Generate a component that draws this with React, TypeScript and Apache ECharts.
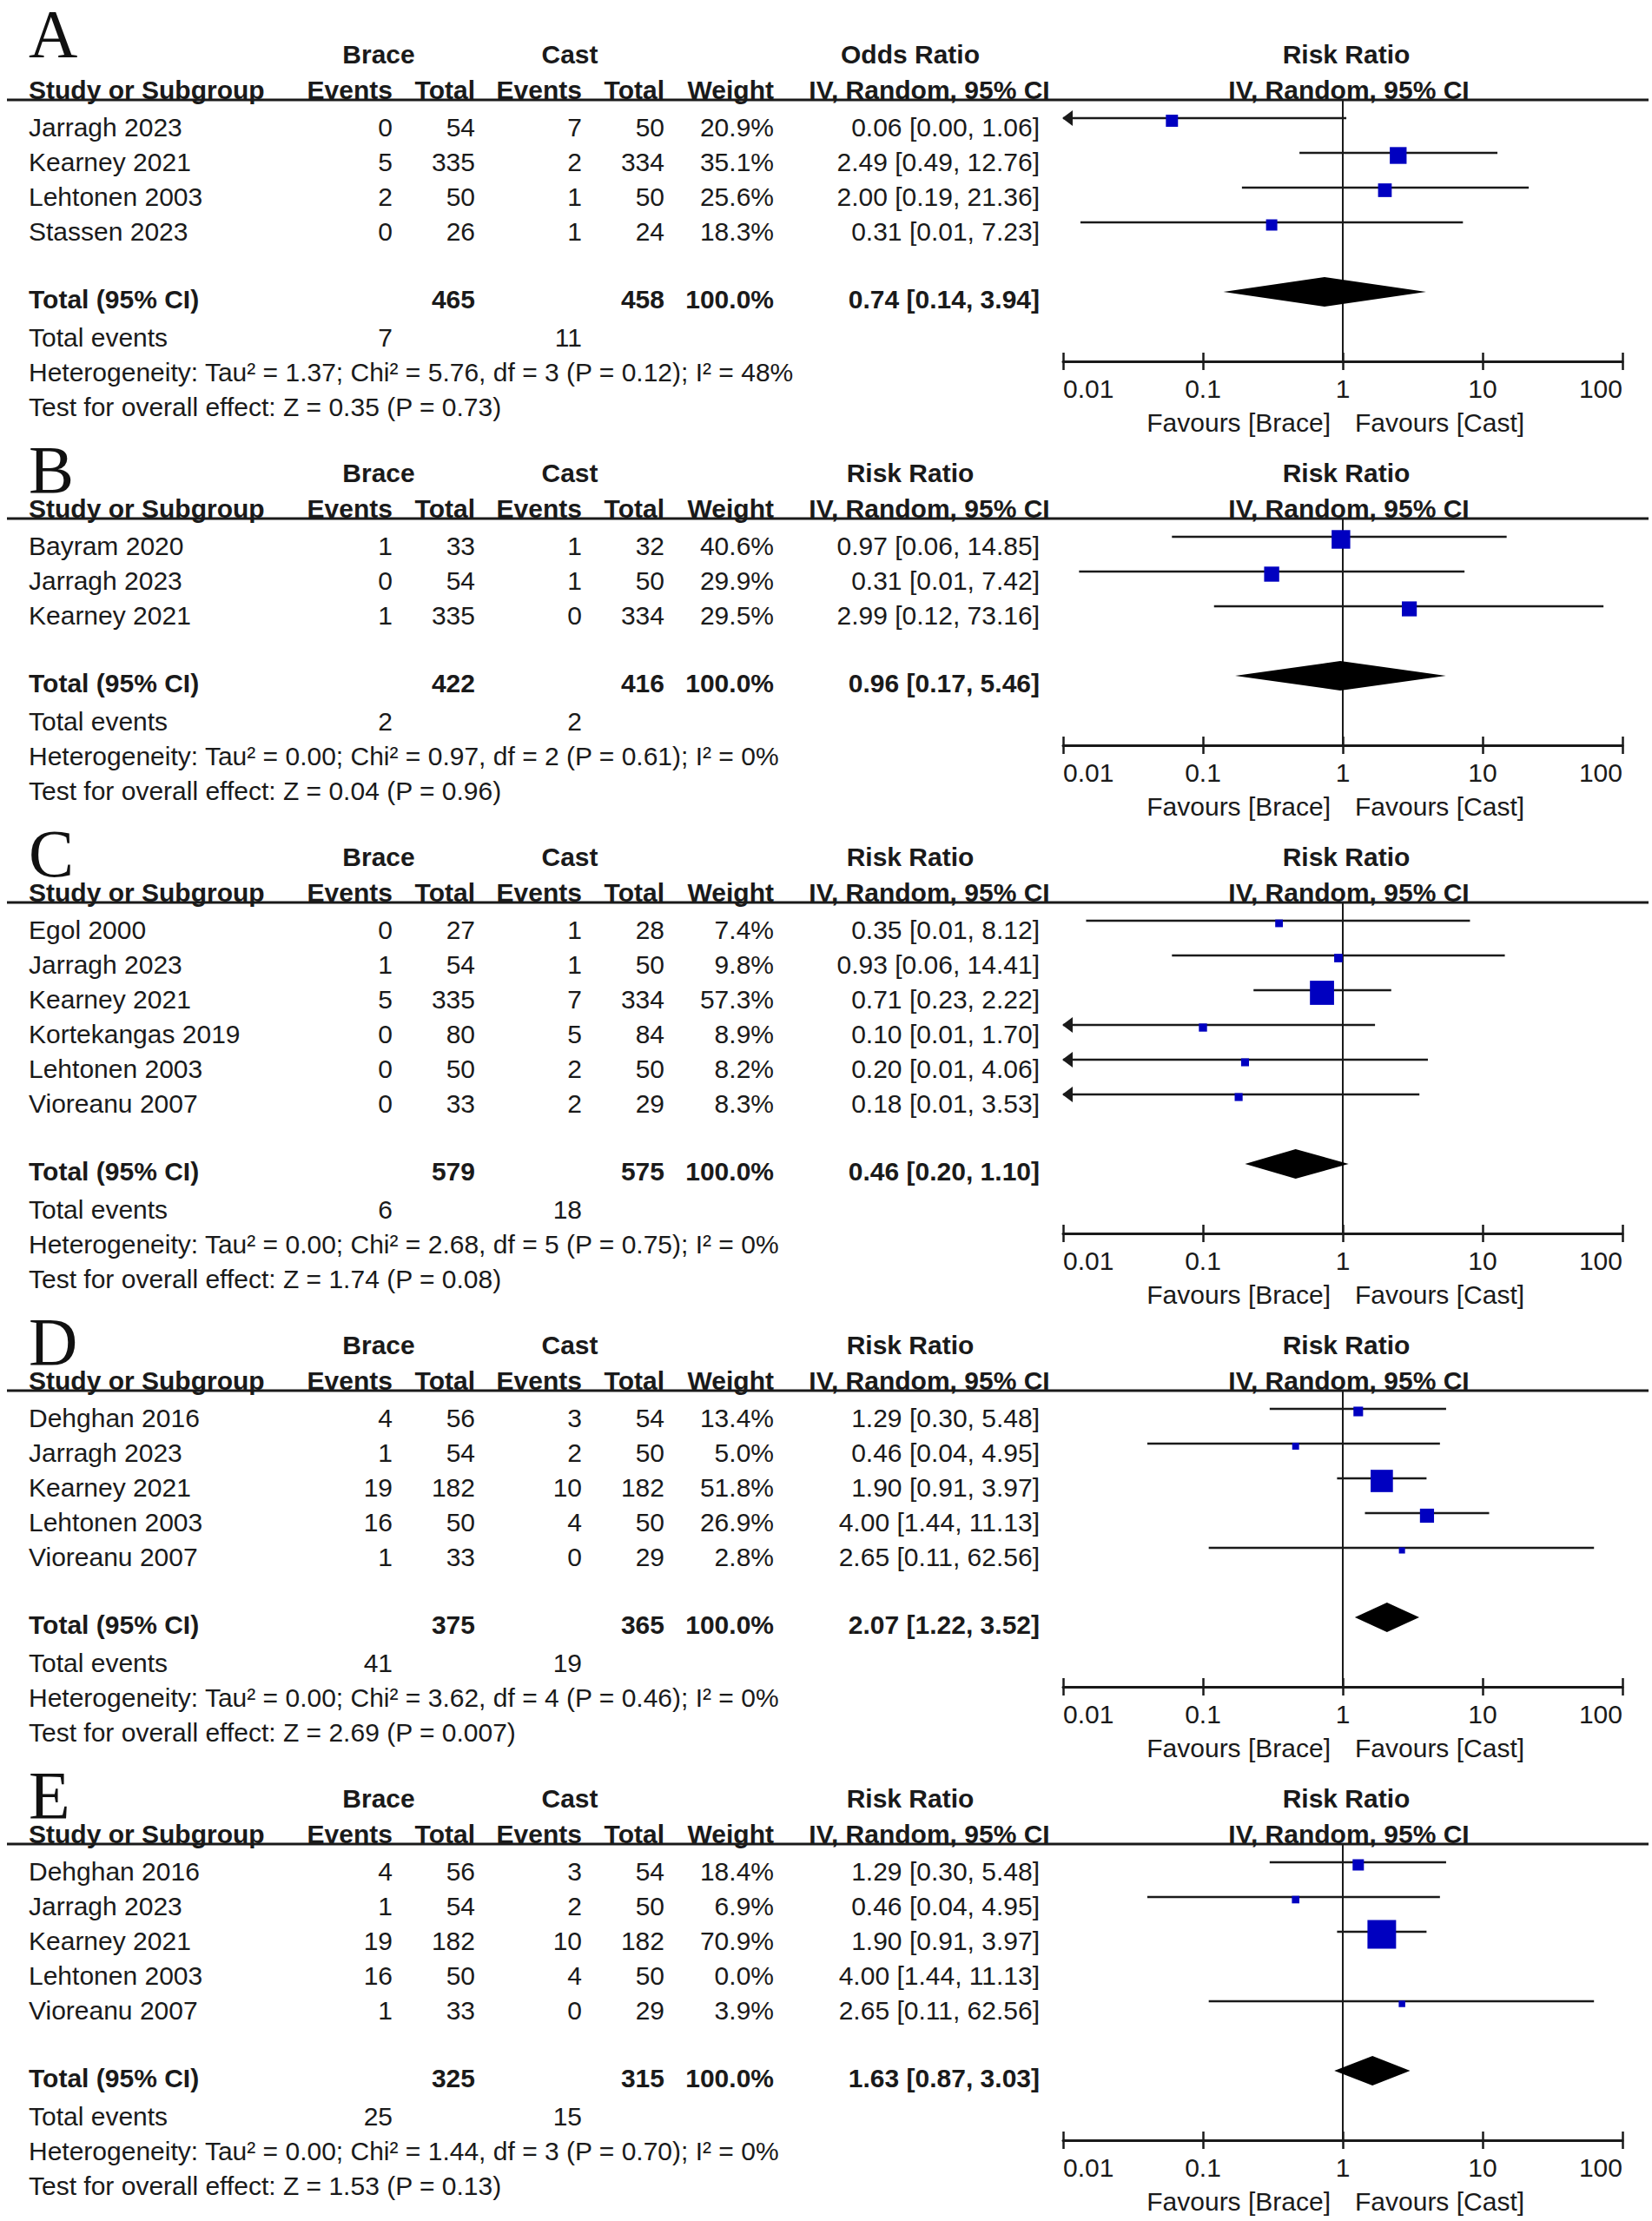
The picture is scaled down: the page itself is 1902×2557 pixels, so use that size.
import React, { useEffect, useRef } from "react";
import * as echarts from "echarts";

// ---------------- data ----------------
const PANEL_LETTERS = ["A", "B", "C", "D", "E"];
const EFFECT_HEADERS = ["Odds Ratio", "Risk Ratio", "Risk Ratio", "Risk Ratio", "Risk Ratio"];
const PLOT_HEADER = "Risk Ratio";
const METHOD_LABEL = "IV, Random, 95% CI";
const GROUP_LABELS = ["Brace", "Cast"];
const COLUMN_HEADERS = ["Study or Subgroup", "Events", "Total", "Events", "Total", "Weight"];
const FAVOURS = ["Favours [Brace]", "Favours [Cast]"];
const TICK_LABELS = ["0.01", "0.1", "1", "10", "100"];

// Panel A
const STUDIES_A = ["Jarragh 2023", "Kearney 2021", "Lehtonen 2003", "Stassen 2023"];
const BRACE_EV_A = [0, 5, 2, 0];
const BRACE_N_A = [54, 335, 50, 26];
const CAST_EV_A = [7, 2, 1, 1];
const CAST_N_A = [50, 334, 50, 24];
const WEIGHT_A = [20.9, 35.1, 25.6, 18.3];
const EST_A = [0.06, 2.49, 2.0, 0.31];
const LO_A = [0.0034, 0.49, 0.19, 0.0133];
const HI_A = [1.06, 12.76, 21.36, 7.23];
const TOTAL_A = { braceN: 465, castN: 458, weight: 100.0, braceEv: 7, castEv: 11, est: 0.74, lo: 0.14, hi: 3.94 };
const HET_A = "Heterogeneity: Tau² = 1.37; Chi² = 5.76, df = 3 (P = 0.12); I² = 48%";
const TEST_A = "Test for overall effect: Z = 0.35 (P = 0.73)";

// Panel B
const STUDIES_B = ["Bayram 2020", "Jarragh 2023", "Kearney 2021"];
const BRACE_EV_B = [1, 0, 1];
const BRACE_N_B = [33, 54, 335];
const CAST_EV_B = [1, 1, 0];
const CAST_N_B = [32, 50, 334];
const WEIGHT_B = [40.6, 29.9, 29.5];
const EST_B = [0.97, 0.31, 2.99];
const LO_B = [0.06, 0.013, 0.12];
const HI_B = [14.85, 7.42, 73.16];
const TOTAL_B = { braceN: 422, castN: 416, weight: 100.0, braceEv: 2, castEv: 2, est: 0.96, lo: 0.17, hi: 5.46 };
const HET_B = "Heterogeneity: Tau² = 0.00; Chi² = 0.97, df = 2 (P = 0.61); I² = 0%";
const TEST_B = "Test for overall effect: Z = 0.04 (P = 0.96)";

// Panel C
const STUDIES_C = ["Egol 2000", "Jarragh 2023", "Kearney 2021", "Kortekangas 2019", "Lehtonen 2003", "Vioreanu 2007"];
const BRACE_EV_C = [0, 1, 5, 0, 0, 0];
const BRACE_N_C = [27, 54, 335, 80, 50, 33];
const CAST_EV_C = [1, 1, 7, 5, 2, 2];
const CAST_N_C = [28, 50, 334, 84, 50, 29];
const WEIGHT_C = [7.4, 9.8, 57.3, 8.9, 8.2, 8.3];
const EST_C = [0.35, 0.93, 0.71, 0.1, 0.2, 0.18];
const LO_C = [0.0146, 0.06, 0.23, 0.0059, 0.0099, 0.0092];
const HI_C = [8.12, 14.41, 2.22, 1.7, 4.06, 3.53];
const TOTAL_C = { braceN: 579, castN: 575, weight: 100.0, braceEv: 6, castEv: 18, est: 0.46, lo: 0.2, hi: 1.1 };
const HET_C = "Heterogeneity: Tau² = 0.00; Chi² = 2.68, df = 5 (P = 0.75); I² = 0%";
const TEST_C = "Test for overall effect: Z = 1.74 (P = 0.08)";

// Panel D
const STUDIES_D = ["Dehghan 2016", "Jarragh 2023", "Kearney 2021", "Lehtonen 2003", "Vioreanu 2007"];
const BRACE_EV_D = [4, 1, 19, 16, 1];
const BRACE_N_D = [56, 54, 182, 50, 33];
const CAST_EV_D = [3, 2, 10, 4, 0];
const CAST_N_D = [54, 50, 182, 50, 29];
const WEIGHT_D = [13.4, 5.0, 51.8, 26.9, 2.8];
const EST_D = [1.29, 0.46, 1.9, 4.0, 2.65];
const LO_D = [0.3, 0.04, 0.91, 1.44, 0.11];
const HI_D = [5.48, 4.95, 3.97, 11.13, 62.56];
const TOTAL_D = { braceN: 375, castN: 365, weight: 100.0, braceEv: 41, castEv: 19, est: 2.07, lo: 1.22, hi: 3.52 };
const HET_D = "Heterogeneity: Tau² = 0.00; Chi² = 3.62, df = 4 (P = 0.46); I² = 0%";
const TEST_D = "Test for overall effect: Z = 2.69 (P = 0.007)";

// Panel E
const STUDIES_E = ["Dehghan 2016", "Jarragh 2023", "Kearney 2021", "Lehtonen 2003", "Vioreanu 2007"];
const BRACE_EV_E = [4, 1, 19, 16, 1];
const BRACE_N_E = [56, 54, 182, 50, 33];
const CAST_EV_E = [3, 2, 10, 4, 0];
const CAST_N_E = [54, 50, 182, 50, 29];
const WEIGHT_E = [18.4, 6.9, 70.9, 0.0, 3.9];
const EST_E = [1.29, 0.46, 1.9, 4.0, 2.65];
const LO_E = [0.3, 0.04, 0.91, 1.44, 0.11];
const HI_E = [5.48, 4.95, 3.97, 11.13, 62.56];
const TOTAL_E = { braceN: 325, castN: 315, weight: 100.0, braceEv: 25, castEv: 15, est: 1.63, lo: 0.87, hi: 3.03 };
const HET_E = "Heterogeneity: Tau² = 0.00; Chi² = 1.44, df = 3 (P = 0.70); I² = 0%";
const TEST_E = "Test for overall effect: Z = 1.53 (P = 0.13)";

const PANELS = [
  { studies: STUDIES_A, bEv: BRACE_EV_A, bN: BRACE_N_A, cEv: CAST_EV_A, cN: CAST_N_A, w: WEIGHT_A, est: EST_A, lo: LO_A, hi: HI_A, tot: TOTAL_A, het: HET_A, test: TEST_A },
  { studies: STUDIES_B, bEv: BRACE_EV_B, bN: BRACE_N_B, cEv: CAST_EV_B, cN: CAST_N_B, w: WEIGHT_B, est: EST_B, lo: LO_B, hi: HI_B, tot: TOTAL_B, het: HET_B, test: TEST_B },
  { studies: STUDIES_C, bEv: BRACE_EV_C, bN: BRACE_N_C, cEv: CAST_EV_C, cN: CAST_N_C, w: WEIGHT_C, est: EST_C, lo: LO_C, hi: HI_C, tot: TOTAL_C, het: HET_C, test: TEST_C },
  { studies: STUDIES_D, bEv: BRACE_EV_D, bN: BRACE_N_D, cEv: CAST_EV_D, cN: CAST_N_D, w: WEIGHT_D, est: EST_D, lo: LO_D, hi: HI_D, tot: TOTAL_D, het: HET_D, test: TEST_D },
  { studies: STUDIES_E, bEv: BRACE_EV_E, bN: BRACE_N_E, cEv: CAST_EV_E, cN: CAST_N_E, w: WEIGHT_E, est: EST_E, lo: LO_E, hi: HI_E, tot: TOTAL_E, het: HET_E, test: TEST_E },
];

// ---------------- layout / style ----------------
const PAGE_W = 1902;
const PAGE_H = 2557;
const ROW = 40;
const FIRST_H = 62;
const PANEL_STEP = 322;
const AX_MIN = 0.01;
const AX_MAX = 100;
const X_STUDY = 33;
const X_BR_EV = 452;
const X_BR_N = 547;
const X_CA_EV = 670;
const X_CA_N = 765;
const X_WEIGHT = 891;
const X_EST = 1197;
const X_BRACE_HDR = 436;
const X_CAST_HDR = 656;
const X_EFFECT_HDR = 1048;
const X_EFFECT_SUB = 1070;
const PLOT_LEFT = 1224;
const PLOT_WIDTH = 644;
const X_PLOT_HDR = 1550;
const X_PLOT_SUB = 1553;
const INK = "#1a1a1a";
const SQUARE = "#0000c0";
const FONT_FAMILY = '"Liberation Sans", Arial, Helvetica, sans-serif';
const FONT = `30px ${FONT_FAMILY}`;
const FONT_B = `bold 30px ${FONT_FAMILY}`;
const LETTER_FONT = '78px "Liberation Serif", "Times New Roman", serif';

const fmtCI = (e: number, l: number, h: number) => `${e.toFixed(2)} [${l.toFixed(2)}, ${h.toFixed(2)}]`;

function txt(text: string, x: number, y: number, align: string, font: string = FONT) {
  return {
    type: "text",
    x,
    y,
    silent: true,
    style: {
      text,
      font,
      fill: INK,
      textAlign: align,
      textVerticalAlign: "middle",
      align,
      verticalAlign: "middle",
    },
  };
}

function buildOption() {
  const grids: any[] = [];
  const xAxes: any[] = [];
  const yAxes: any[] = [];
  const series: any[] = [];
  const elements: any[] = [];

  let H = FIRST_H;
  PANELS.forEach((p, k) => {
    const n = p.studies.length;
    const lineY = H + 53;
    const axisY = H + 194 + ROW * n;
    const totalY = H + 122 + ROW * n;
    const evY = totalY + 44;
    const hetY = totalY + 84;
    const testY = totalY + 124;
    const yMin = -0.525;
    const yMax = n + 3;

    // panel letter
    elements.push({
      type: "text",
      x: X_STUDY,
      y: k === 0 ? H - 24 : H - 4,
      silent: true,
      style: {
        text: PANEL_LETTERS[k],
        font: LETTER_FONT,
        lineHeight: 54,
        fill: "#111",
        textAlign: "left",
        align: "left",
        textVerticalAlign: "middle",
        verticalAlign: "middle",
      },
    });

    // headers
    elements.push(txt(GROUP_LABELS[0], X_BRACE_HDR, H, "center", FONT_B));
    elements.push(txt(GROUP_LABELS[1], X_CAST_HDR, H, "center", FONT_B));
    elements.push(txt(EFFECT_HEADERS[k], X_EFFECT_HDR, H, "center", FONT_B));
    elements.push(txt(PLOT_HEADER, X_PLOT_HDR, H, "center", FONT_B));
    const hy = H + 41;
    elements.push(txt(COLUMN_HEADERS[0], X_STUDY, hy, "left", FONT_B));
    elements.push(txt(COLUMN_HEADERS[1], X_BR_EV, hy, "right", FONT_B));
    elements.push(txt(COLUMN_HEADERS[2], X_BR_N, hy, "right", FONT_B));
    elements.push(txt(COLUMN_HEADERS[3], X_CA_EV, hy, "right", FONT_B));
    elements.push(txt(COLUMN_HEADERS[4], X_CA_N, hy, "right", FONT_B));
    elements.push(txt(COLUMN_HEADERS[5], X_WEIGHT, hy, "right", FONT_B));
    elements.push(txt(METHOD_LABEL, X_EFFECT_SUB, hy, "center", FONT_B));
    elements.push(txt(METHOD_LABEL, X_PLOT_SUB, hy, "center", FONT_B));

    // rule under header
    elements.push({
      type: "line",
      silent: true,
      shape: { x1: 8, y1: lineY, x2: 1898, y2: lineY },
      style: { stroke: INK, lineWidth: 3 },
    });

    // study rows
    p.studies.forEach((name, i) => {
      const y = H + 84 + ROW * i;
      elements.push(txt(name, X_STUDY, y, "left"));
      elements.push(txt(String(p.bEv[i]), X_BR_EV, y, "right"));
      elements.push(txt(String(p.bN[i]), X_BR_N, y, "right"));
      elements.push(txt(String(p.cEv[i]), X_CA_EV, y, "right"));
      elements.push(txt(String(p.cN[i]), X_CA_N, y, "right"));
      elements.push(txt(p.w[i].toFixed(1) + "%", X_WEIGHT, y, "right"));
      elements.push(txt(fmtCI(p.est[i], p.lo[i], p.hi[i]), X_EST, y, "right"));
    });

    // totals
    elements.push(txt("Total (95% CI)", X_STUDY, totalY, "left", FONT_B));
    elements.push(txt(String(p.tot.braceN), X_BR_N, totalY, "right", FONT_B));
    elements.push(txt(String(p.tot.castN), X_CA_N, totalY, "right", FONT_B));
    elements.push(txt(p.tot.weight.toFixed(1) + "%", X_WEIGHT, totalY, "right", FONT_B));
    elements.push(txt(fmtCI(p.tot.est, p.tot.lo, p.tot.hi), X_EST, totalY, "right", FONT_B));
    elements.push(txt("Total events", X_STUDY, evY, "left"));
    elements.push(txt(String(p.tot.braceEv), X_BR_EV, evY, "right"));
    elements.push(txt(String(p.tot.castEv), X_CA_EV, evY, "right"));
    elements.push(txt(p.het, X_STUDY, hetY, "left"));
    elements.push(txt(p.test, X_STUDY, testY, "left"));

    // favours
    const xOne = PLOT_LEFT + PLOT_WIDTH / 2;
    elements.push(txt(FAVOURS[0], xOne - 14, axisY + 70, "right"));
    elements.push(txt(FAVOURS[1], xOne + 14, axisY + 70, "left"));

    // grid + axes
    grids.push({ left: PLOT_LEFT, top: lineY, width: PLOT_WIDTH, height: axisY - lineY, containLabel: false });
    const baseX = {
      type: "log",
      logBase: 10,
      min: AX_MIN,
      max: AX_MAX,
      gridIndex: k,
      position: "bottom",
      splitLine: { show: false },
      minorTick: { show: false },
      minorSplitLine: { show: false },
    };
    xAxes.push({
      ...baseX,
      axisLine: { show: true, onZero: false, lineStyle: { color: INK, width: 3 } },
      axisTick: { show: true, inside: true, length: 10, lineStyle: { color: INK, width: 2.5 } },
      axisLabel: {
        show: true,
        margin: 16,
        color: INK,
        fontSize: 30,
        fontFamily: FONT_FAMILY,
        showMinLabel: true,
        showMaxLabel: true,
        alignMinLabel: "left",
        alignMaxLabel: "right",
        formatter: (v: number) => TICK_LABELS[Math.round(Math.log10(v)) + 2] ?? "",
      },
    });
    xAxes.push({
      ...baseX,
      axisLine: { show: false, onZero: false },
      axisTick: { show: true, inside: false, length: 10, lineStyle: { color: INK, width: 2.5 } },
      axisLabel: { show: false },
    });
    yAxes.push({
      type: "value",
      gridIndex: k,
      inverse: true,
      min: yMin,
      max: yMax,
      show: false,
      splitLine: { show: false },
    });

    // null line at 1
    series.push({
      type: "line",
      xAxisIndex: 2 * k,
      yAxisIndex: k,
      data: [[1, yMin], [1, yMax]],
      symbol: "none",
      silent: true,
      lineStyle: { color: INK, width: 2 },
      z: 2,
    });

    // study CIs and squares
    series.push({
      type: "custom",
      xAxisIndex: 2 * k,
      yAxisIndex: k,
      clip: false,
      silent: true,
      z: 3,
      encode: { x: 3, y: 0 },
      data: p.studies.map((_, i) => [i, p.lo[i], p.hi[i], p.est[i], p.w[i]]),
      renderItem: (params: any, api: any) => {
        const row = api.value(0);
        const lo = api.value(1);
        const hi = api.value(2);
        const est = api.value(3);
        const w = api.value(4);
        if (!(w > 0)) return { type: "group", children: [] };
        const pL = api.coord([Math.max(lo, AX_MIN), row]);
        const pH = api.coord([Math.min(hi, AX_MAX), row]);
        const pE = api.coord([est, row]);
        const children: any[] = [
          {
            type: "line",
            shape: { x1: pL[0], y1: pL[1], x2: pH[0], y2: pH[1] },
            style: { stroke: INK, lineWidth: 2.5 },
          },
        ];
        if (lo < AX_MIN) {
          children.push({
            type: "polygon",
            shape: { points: [[pL[0] - 1, pL[1]], [pL[0] + 11, pL[1] - 9], [pL[0] + 11, pL[1] + 9]] },
            style: { fill: INK },
          });
        }
        const s = 6 + 0.38 * w;
        children.push({
          type: "rect",
          shape: { x: pE[0] - s / 2, y: pE[1] + 3 - s / 2, width: s, height: s },
          style: { fill: SQUARE },
        });
        return { type: "group", children };
      },
    });

    // pooled diamond
    series.push({
      type: "custom",
      xAxisIndex: 2 * k,
      yAxisIndex: k,
      clip: false,
      silent: true,
      z: 3,
      encode: { x: 3, y: 0 },
      data: [[n + 1, p.tot.lo, p.tot.hi, p.tot.est]],
      renderItem: (params: any, api: any) => {
        const row = api.value(0);
        const a = api.coord([api.value(1), row]);
        const b = api.coord([api.value(2), row]);
        const c = api.coord([api.value(3), row]);
        return {
          type: "polygon",
          shape: { points: [[a[0], a[1]], [c[0], c[1] - 17], [b[0], b[1]], [c[0], c[1] + 17]] },
          style: { fill: "#000" },
        };
      },
    });

    H = H + PANEL_STEP + ROW * n;
  });

  return {
    animation: false,
    backgroundColor: "#ffffff",
    grid: grids,
    xAxis: xAxes,
    yAxis: yAxes,
    series,
    graphic: { elements },
  };
}

export default function App() {
  const ref = useRef<HTMLDivElement>(null);
  useEffect(() => {
    document.body.style.margin = "0";
    if (!ref.current) return;
    const chart = echarts.init(ref.current, undefined, { renderer: "svg", width: PAGE_W, height: PAGE_H });
    chart.setOption(buildOption() as any);
    return () => chart.dispose();
  }, []);
  return <div ref={ref} style={{ width: PAGE_W, height: PAGE_H, background: "#fff" }} />;
}
